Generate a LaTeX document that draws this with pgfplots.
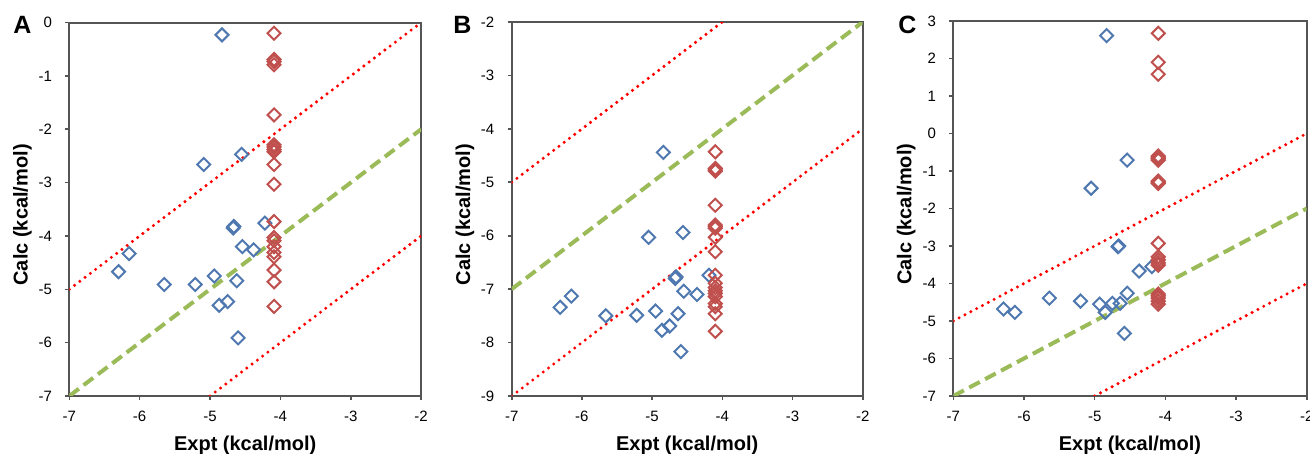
\documentclass[border=0pt]{standalone}
\usepackage{fontspec}
\setmainfont{Liberation Sans}
\usepackage{pgfplots}
\pgfplotsset{compat=1.18}
\definecolor{mblue}{RGB}{79,120,176}
\definecolor{mred}{RGB}{192,80,77}
\definecolor{mgreen}{RGB}{155,187,89}
\definecolor{axgray}{RGB}{85,85,85}
\pgfplotsset{
  panel/.style={
    scale only axis, anchor=south west,
    xmin=-7, xmax=-2, xtick={-7,-6,-5,-4,-3,-2},
    xticklabels={-7,-6,-5,-4,-3,-2},
    axis line style={axgray, line width=1pt},
    tick style={axgray, line width=0.8pt},
    tick align=outside, major tick length=2pt,
    xtick pos=bottom, ytick pos=left,
    ticklabel style={font=\fontsize{7.5}{8.5}\selectfont, inner sep=0pt},
    xticklabel style={anchor=north, yshift=-5.5pt},
    yticklabel style={anchor=east, xshift=-6.5pt},
    xlabel={Expt (kcal/mol)}, ylabel={Calc (kcal/mol)},
    label style={font=\bfseries\fontsize{10}{12}\selectfont},
    xlabel style={at={(axis description cs:0.5,-0.146)}, anchor=base},
    ylabel style={at={(axis description cs:-0.133,0.485)}, anchor=center},
    clip=true,
  },
  bluemk/.style={only marks, mark=square, mark size=2.3pt, mark options={rotate=45, draw=mblue, line width=1pt, fill=none}},
  redmk/.style={only marks, mark=square, mark size=2.3pt, mark options={rotate=45, draw=mred, line width=1pt, fill=none}},
  greenln/.style={no marks, mgreen, line width=2pt, dash pattern=on 6pt off 3pt},
  redln/.style={no marks, red, line width=1.7pt, line cap=round, dash pattern=on 0pt off 3.3pt},
}
\begin{document}
\begin{tikzpicture}
\useasboundingbox (0,0) rectangle (655pt,227pt);
% ---------- A ----------
\begin{axis}[panel, at={(34.65pt,29pt)}, width=175.9pt, height=186.7pt,
  ymin=-7, ymax=0, ytick={-7,-6,-5,-4,-3,-2,-1,0},
  yticklabels={-7,-6,-5,-4,-3,-2,-1,0}]
\addplot[redln] coordinates {(-7,-5) (-2,0)};
\addplot[redln] coordinates {(-5,-7) (-2,-4)};
\addplot[greenln] coordinates {(-7,-7) (-2,-2)};
\addplot[bluemk] coordinates {(-4.83,-0.23) (-4.55,-2.47) (-5.09,-2.66) (-4.67,-3.85) (-4.66,-3.82) (-4.22,-3.76) (-4.54,-4.20) (-4.38,-4.26) (-6.15,-4.33) (-6.30,-4.67) (-5.65,-4.91) (-5.21,-4.91) (-4.94,-4.75) (-4.62,-4.84) (-4.87,-5.30) (-4.75,-5.23) (-4.60,-5.91)};
\addplot[redmk] coordinates {(-4.09,-0.20) (-4.09,-0.69) (-4.09,-0.73) (-4.09,-0.79) (-4.09,-1.73) (-4.09,-2.29) (-4.09,-2.33) (-4.09,-2.38) (-4.09,-2.42) (-4.09,-2.66) (-4.09,-3.03) (-4.09,-3.73) (-4.09,-4.03) (-4.09,-4.09) (-4.09,-4.20) (-4.09,-4.31) (-4.09,-4.39) (-4.09,-4.64) (-4.09,-4.86) (-4.09,-5.32)};
\end{axis}
% ---------- B ----------
\begin{axis}[panel, at={(255.85pt,29pt)}, width=175.5pt, height=187pt,
  ymin=-9, ymax=-2, ytick={-9,-8,-7,-6,-5,-4,-3,-2},
  yticklabels={-9,-8,-7,-6,-5,-4,-3,-2}]
\addplot[redln] coordinates {(-7,-5) (-4,-2)};
\addplot[redln] coordinates {(-7,-9) (-2,-4)};
\addplot[greenln] coordinates {(-7,-7) (-2,-2)};
\addplot[bluemk] coordinates {(-4.84,-4.44) (-5.05,-6.03) (-4.56,-5.94) (-4.67,-6.80) (-4.66,-6.77) (-4.19,-6.74) (-4.55,-7.04) (-4.36,-7.10) (-6.15,-7.13) (-6.31,-7.34) (-5.66,-7.50) (-5.22,-7.49) (-4.95,-7.41) (-4.63,-7.46) (-4.86,-7.77) (-4.75,-7.69) (-4.59,-8.17)};
\addplot[redmk] coordinates {(-4.10,-4.43) (-4.10,-4.74) (-4.10,-4.77) (-4.10,-4.79) (-4.10,-5.43) (-4.10,-5.80) (-4.10,-5.83) (-4.10,-5.86) (-4.10,-6.03) (-4.10,-6.30) (-4.10,-6.74) (-4.10,-6.89) (-4.10,-6.97) (-4.10,-7.03) (-4.10,-7.08) (-4.10,-7.14) (-4.10,-7.27) (-4.10,-7.33) (-4.10,-7.46) (-4.10,-7.79)};
\end{axis}
% ---------- C ----------
\begin{axis}[panel, at={(476.65pt,29pt)}, width=176.7pt, height=187.5pt,
  ymin=-7, ymax=3, ytick={-7,-6,-5,-4,-3,-2,-1,0,1,2,3},
  yticklabels={-7,-6,-5,-4,-3,-2,-1,0,1,2,3}]
\addplot[redln] coordinates {(-7,-5) (-2,0)};
\addplot[redln] coordinates {(-5,-7) (-2,-4)};
\addplot[greenln] coordinates {(-7,-7) (-2,-2)};
\addplot[bluemk] coordinates {(-4.83,2.61) (-4.54,-0.71) (-5.05,-1.46) (-4.67,-3.02) (-4.66,-3.00) (-4.37,-3.67) (-4.19,-3.55) (-4.54,-4.26) (-6.29,-4.68) (-6.13,-4.77) (-5.64,-4.39) (-5.20,-4.47) (-4.93,-4.55) (-4.85,-4.77) (-4.75,-4.53) (-4.64,-4.53) (-4.58,-5.33)};
\addplot[redmk] coordinates {(-4.10,2.67) (-4.10,1.90) (-4.10,1.58) (-4.10,-0.60) (-4.10,-0.63) (-4.10,-0.67) (-4.10,-0.71) (-4.10,-1.27) (-4.10,-1.30) (-4.10,-1.33) (-4.10,-2.93) (-4.10,-3.29) (-4.10,-3.37) (-4.10,-3.45) (-4.10,-3.51) (-4.10,-4.28) (-4.10,-4.33) (-4.10,-4.39) (-4.10,-4.47) (-4.10,-4.55)};
\end{axis}
% ---------- panel letters ----------
\node[anchor=base west, inner sep=0pt, font=\bfseries\fontsize{12.5}{14}\selectfont] at (6.5pt,210pt) {A};
\node[anchor=base west, inner sep=0pt, font=\bfseries\fontsize{12.5}{14}\selectfont] at (226.5pt,210pt) {B};
\node[anchor=base west, inner sep=0pt, font=\bfseries\fontsize{12.5}{14}\selectfont] at (449pt,210pt) {C};
\end{tikzpicture}
\end{document}
